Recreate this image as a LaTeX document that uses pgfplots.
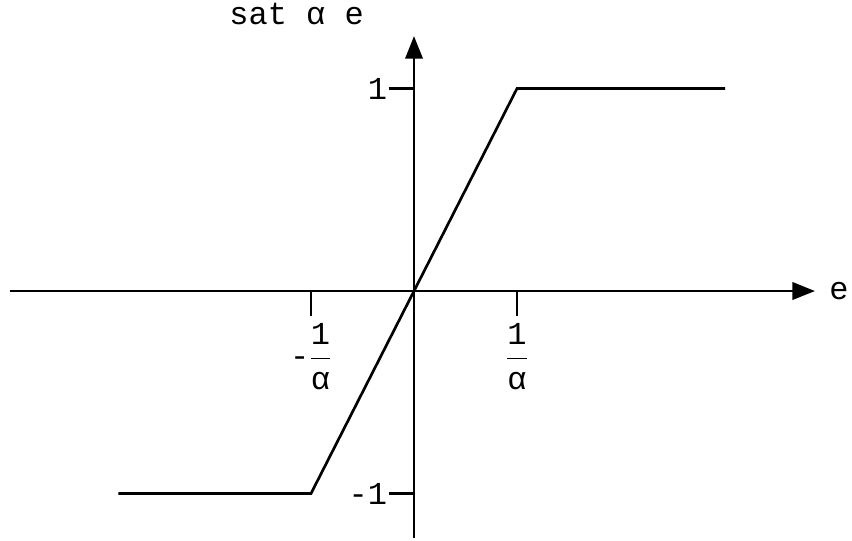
\documentclass[border=0pt]{standalone}
\usepackage{amsmath}
\usepackage{fontspec}
\setmainfont{Liberation Mono}
\usepackage{pgfplots}
\pgfplotsset{compat=1.18}
\usetikzlibrary{arrows.meta}

\begin{document}
{\fontsize{24}{28}\selectfont
\begin{tikzpicture}
\begin{axis}[
  x=77.25pt, y=151.875pt,
  axis lines=middle,
  xmin=-3.922, xmax=3.893,
  ymin=-1.22, ymax=1.259,
  enlargelimits=false,
  clip=false,
  axis line style={line width=2pt, -{Triangle[length=17pt,width=13pt]}},
  tick style={line width=2pt, black},
  tick align=outside,
  major tick length=19pt,
  xtick={-1,1},
  xticklabels={$\text{-}\dfrac{\text{1}}{\text{α}}$, $\dfrac{\text{1}}{\text{α}}$},
  ytick={-1,1},
  yticklabels={-1,1},
  xticklabel style={inner sep=2pt, yshift=-3pt},
  yticklabel style={inner sep=1pt},
]
  % saturation characteristic
  \addplot[black, line width=2pt] coordinates {
    (-2.87,-1) (-1,-1) (1,1) (3.02,1)
  };

  \node[anchor=base] at (axis cs:-1.14,1.314) {sat α e};
  \node[anchor=west, inner sep=0pt] at (axis cs:4.03,0) {e};

  \coordinate (bl) at (axis cs:-4.019,-1.230);
  \coordinate (tr) at (axis cs:4.252,1.437);
\end{axis}
\pgfresetboundingbox
\path (bl) rectangle (tr);
\end{tikzpicture}}
\end{document}
